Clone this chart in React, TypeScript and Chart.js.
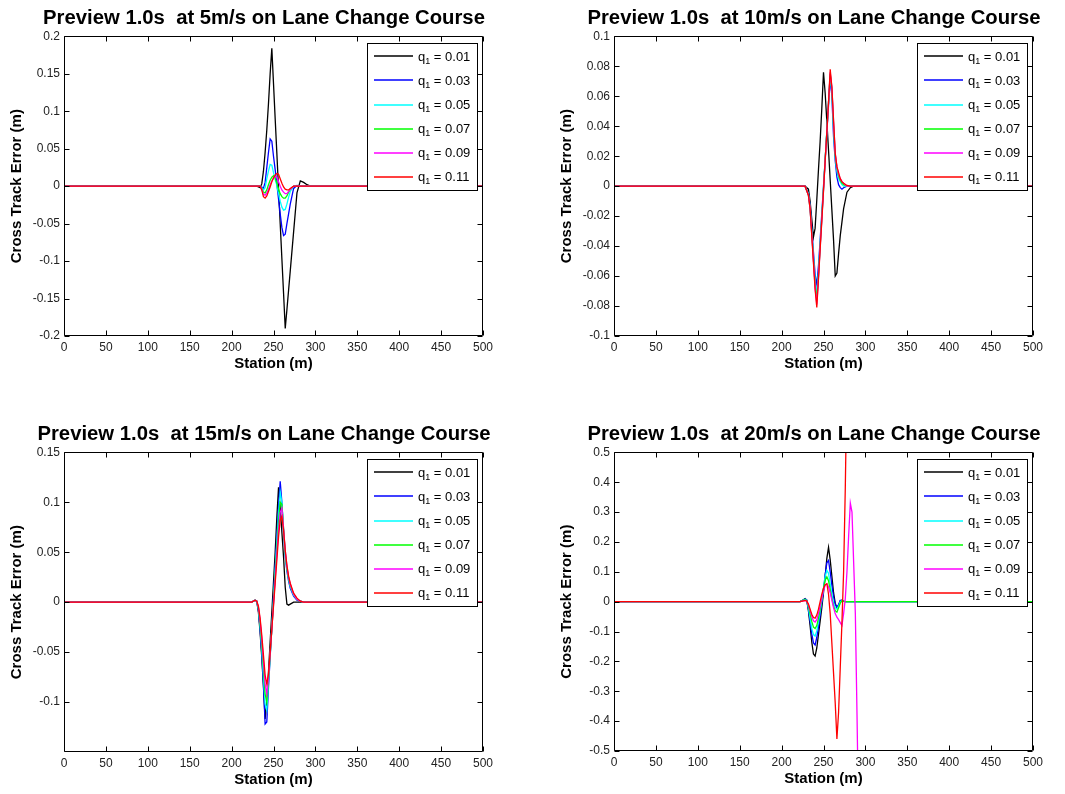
import React, { useEffect, useRef } from 'react';
import { Chart, registerables } from 'chart.js';

Chart.register(...registerables);

const FONT = "'Liberation Sans', Arial, Helvetica, sans-serif";

// ---------- shared labels / ticks ----------
const qValues = ['0.01', '0.03', '0.05', '0.07', '0.09', '0.11'];
const seriesColors = ['#000000', '#0000ff', '#00ffff', '#00ff00', '#ff00ff', '#ff0000'];
const stationTicks = [0, 50, 100, 150, 200, 250, 300, 350, 400, 450, 500];

const yTicks5 = [-0.2, -0.15, -0.1, -0.05, 0, 0.05, 0.1, 0.15, 0.2];
const yTicks10 = [-0.1, -0.08, -0.06, -0.04, -0.02, 0, 0.02, 0.04, 0.06, 0.08, 0.1];
const yTicks15 = [-0.1, -0.05, 0, 0.05, 0.1, 0.15];
const yTicks20 = [-0.5, -0.4, -0.3, -0.2, -0.1, 0, 0.1, 0.2, 0.3, 0.4, 0.5];

// ---------- 5 m/s ----------
const station5 = [0, 230, 234, 236, 238, 240, 242, 244, 246, 248, 250, 252, 254, 256, 258, 260, 262, 264, 266, 268, 270, 274, 278, 282, 286, 290, 294, 500];
const err5_q01 = [0, 0, -0.002, 0.003, 0.02, 0.045, 0.075, 0.11, 0.15, 0.184, 0.137, 0.09, 0.044, -0.003, -0.05, -0.097, -0.143, -0.19, -0.165, -0.139, -0.113, -0.061, -0.009, 0.007, 0.005, 0.002, 0, 0];
const err5_q03 = [0, 0, 0, -0.001, -0.003, 0.005, 0.025, 0.045, 0.063, 0.06, 0.04, 0.022, 0.003, -0.017, -0.037, -0.055, -0.066, -0.064, -0.05, -0.037, -0.024, -0.003, 0.001, 0, 0, 0, 0, 0];
const err5_q05 = [0, 0, 0, -0.002, -0.005, -0.002, 0.01, 0.02, 0.029, 0.028, 0.018, 0.009, 0.001, -0.01, -0.02, -0.028, -0.032, -0.031, -0.024, -0.015, -0.007, 0, 0, 0, 0, 0, 0, 0];
const err5_q07 = [0, 0, 0, -0.003, -0.008, -0.009, -0.005, 0.002, 0.008, 0.012, 0.014, 0.011, 0.004, -0.004, -0.01, -0.014, -0.016, -0.016, -0.013, -0.008, -0.004, 0, 0, 0, 0, 0, 0, 0];
const err5_q09 = [0, 0, 0, -0.004, -0.011, -0.012, -0.009, -0.004, 0.002, 0.007, 0.011, 0.013, 0.012, 0.006, 0, -0.005, -0.008, -0.01, -0.01, -0.007, -0.004, 0, 0, 0, 0, 0, 0, 0];
const err5_q11 = [0, 0, 0, -0.005, -0.014, -0.016, -0.013, -0.007, -0.001, 0.006, 0.011, 0.015, 0.017, 0.016, 0.01, 0.004, -0.001, -0.004, -0.005, -0.005, -0.003, 0, 0, 0, 0, 0, 0, 0];

// ---------- 10 m/s ----------
const station10 = [0, 228, 232, 234, 236, 238, 240, 242, 244, 246, 248, 250, 252, 254, 256, 258, 260, 262, 264, 266, 268, 270, 272, 274, 278, 282, 286, 500];
const err10_q01 = [0, 0, -0.002, -0.01, -0.022, -0.034, -0.028, -0.009, 0.011, 0.03, 0.052, 0.076, 0.062, 0.043, 0.024, 0.004, -0.016, -0.036, -0.06, -0.058, -0.045, -0.033, -0.024, -0.015, -0.004, -0.001, 0, 0];
const err10_q03 = [0, 0, -0.005, -0.013, -0.028, -0.044, -0.059, -0.066, -0.053, -0.036, -0.018, 0, 0.018, 0.036, 0.054, 0.072, 0.06, 0.033, 0.017, 0.006, 0.001, -0.001, -0.002, -0.001, 0, 0, 0, 0];
const err10_q05 = [0, 0, -0.005, -0.014, -0.03, -0.047, -0.063, -0.072, -0.058, -0.039, -0.02, -0.001, 0.018, 0.037, 0.056, 0.074, 0.063, 0.038, 0.019, 0.01, 0.005, 0.003, 0.001, 0, 0, 0, 0, 0];
const err10_q07 = [0, 0, -0.006, -0.015, -0.031, -0.049, -0.066, -0.076, -0.06, -0.04, -0.021, -0.002, 0.018, 0.037, 0.056, 0.075, 0.065, 0.041, 0.021, 0.012, 0.007, 0.004, 0.002, 0.001, 0, 0, 0, 0];
const err10_q09 = [0, 0, -0.006, -0.015, -0.032, -0.05, -0.068, -0.079, -0.061, -0.041, -0.022, -0.003, 0.017, 0.036, 0.056, 0.076, 0.066, 0.043, 0.022, 0.013, 0.008, 0.005, 0.003, 0.002, 0, 0, 0, 0];
const err10_q11 = [0, 0, -0.006, -0.015, -0.033, -0.051, -0.069, -0.081, -0.062, -0.042, -0.023, -0.003, 0.017, 0.036, 0.056, 0.078, 0.066, 0.044, 0.022, 0.013, 0.009, 0.005, 0.003, 0.002, 0.0005, 0, 0, 0];

// ---------- 15 m/s ----------
const station15 = [0, 224, 228, 230, 232, 234, 236, 238, 240, 242, 244, 246, 248, 250, 252, 254, 256, 258, 260, 262, 264, 266, 268, 270, 274, 278, 282, 286, 500];
const err15_q01 = [0, 0, 0.002, 0.001, -0.01, -0.03, -0.055, -0.085, -0.117, -0.1, -0.07, -0.04, -0.01, 0.02, 0.05, 0.085, 0.115, 0.095, 0.07, 0.045, 0.015, -0.002, -0.003, -0.002, 0, 0, 0, 0, 0];
const err15_q03 = [0, 0, 0.002, 0.001, -0.008, -0.027, -0.052, -0.082, -0.122, -0.12, -0.086, -0.055, -0.025, 0.006, 0.036, 0.066, 0.096, 0.121, 0.1, 0.07, 0.046, 0.031, 0.021, 0.014, 0.006, 0.002, 0.001, 0, 0];
const err15_q05 = [0, 0, 0.002, 0.001, -0.007, -0.024, -0.047, -0.074, -0.102, -0.108, -0.082, -0.054, -0.026, 0.003, 0.032, 0.06, 0.088, 0.11, 0.1, 0.072, 0.048, 0.033, 0.023, 0.016, 0.007, 0.003, 0.001, 0, 0];
const err15_q07 = [0, 0, 0.002, 0.001, -0.006, -0.021, -0.042, -0.066, -0.092, -0.1, -0.079, -0.053, -0.027, 0, 0.027, 0.053, 0.08, 0.1, 0.098, 0.074, 0.05, 0.034, 0.024, 0.017, 0.008, 0.003, 0.001, 0, 0];
const err15_q09 = [0, 0, 0.002, 0.001, -0.005, -0.018, -0.037, -0.059, -0.082, -0.092, -0.076, -0.052, -0.027, -0.002, 0.023, 0.048, 0.072, 0.09, 0.094, 0.074, 0.052, 0.036, 0.025, 0.018, 0.008, 0.003, 0.001, 0, 0];
const err15_q11 = [0, 0, 0.002, 0.001, -0.004, -0.016, -0.033, -0.053, -0.073, -0.082, -0.072, -0.05, -0.027, -0.004, 0.019, 0.042, 0.065, 0.082, 0.086, 0.072, 0.052, 0.037, 0.026, 0.019, 0.009, 0.004, 0.001, 0, 0];

// ---------- 20 m/s ----------
const station20 = [0, 222, 226, 228, 230, 232, 234, 236, 238, 240, 242, 244, 246, 248, 250, 252, 254, 256, 258, 260, 262, 264, 266, 268, 270, 272, 274, 276, 278, 280, 282, 284, 286, 288, 290, 292, 296, 500];
const err20_q01 = [0, 0, 0.006, 0.01, 0.005, -0.03, -0.08, -0.135, -0.175, -0.182, -0.155, -0.11, -0.065, -0.02, 0.03, 0.085, 0.145, 0.182, 0.14, 0.085, 0.03, -0.005, -0.02, -0.012, 0.003, 0.005, 0.002, 0, 0, 0, 0, 0, 0, 0, 0, 0, 0, 0];
const err20_q03 = [0, 0, 0.005, 0.009, 0.005, -0.025, -0.065, -0.108, -0.138, -0.145, -0.12, -0.085, -0.045, -0.005, 0.04, 0.09, 0.13, 0.138, 0.1, 0.055, 0.015, -0.01, -0.018, -0.01, 0.004, 0.004, 0.001, 0, 0, 0, 0, 0, 0, 0, 0, 0, 0, 0];
const err20_q05 = [0, 0, 0.005, 0.008, 0.004, -0.02, -0.055, -0.09, -0.11, -0.115, -0.098, -0.068, -0.032, 0.005, 0.045, 0.085, 0.105, 0.095, 0.06, 0.025, -0.005, -0.02, -0.025, -0.015, 0, 0.004, 0.001, 0, 0, 0, 0, 0, 0, 0, 0, 0, 0, 0];
const err20_q07 = [0, 0, 0.004, 0.006, 0.003, -0.015, -0.04, -0.066, -0.085, -0.09, -0.08, -0.055, -0.025, 0.01, 0.045, 0.072, 0.083, 0.07, 0.04, 0.01, -0.015, -0.03, -0.035, -0.02, -0.005, 0.003, 0.001, 0, 0, 0, 0, 0, 0, 0, 0, 0, 0, 0];
const err20_q09 = [0, 0, 0.003, 0.004, 0.002, -0.01, -0.03, -0.05, -0.064, -0.068, -0.06, -0.04, -0.015, 0.012, 0.038, 0.055, 0.06, 0.05, 0.03, 0.005, -0.02, -0.04, -0.052, -0.06, -0.07, -0.08, -0.04, 0.01, 0.1, 0.22, 0.33, 0.3, 0.13, -0.04, -0.38, -0.75, null, null];
const err20_q11 = [0, 0, 0.003, 0.004, 0.002, -0.008, -0.025, -0.042, -0.053, -0.055, -0.045, -0.025, 0, 0.025, 0.045, 0.057, 0.06, 0.025, -0.04, -0.14, -0.24, -0.34, -0.46, -0.37, -0.22, -0.07, 0.1, 0.38, 0.75, null, null, null, null, null, null, null, null, null];

type PanelDef = {
  title: string;
  stations: number[];
  series: (number | null)[][];
  yMin: number;
  yMax: number;
  yTicks: number[];
  plotLeft: number;
  plotRight: number;
  plotTop: number;
  plotBottom: number;
  titleCenter: number;
};

const panels: PanelDef[] = [
  {
    title: 'Preview 1.0s  at 5m/s on Lane Change Course',
    stations: station5,
    series: [err5_q01, err5_q03, err5_q05, err5_q07, err5_q09, err5_q11],
    yMin: -0.2, yMax: 0.2, yTicks: yTicks5,
    plotLeft: 64, plotRight: 483, plotTop: 36, plotBottom: 336, titleCenter: 263.8,
  },
  {
    title: 'Preview 1.0s  at 10m/s on Lane Change Course',
    stations: station10,
    series: [err10_q01, err10_q03, err10_q05, err10_q07, err10_q09, err10_q11],
    yMin: -0.1, yMax: 0.1, yTicks: yTicks10,
    plotLeft: 614, plotRight: 1033, plotTop: 36, plotBottom: 336, titleCenter: 814,
  },
  {
    title: 'Preview 1.0s  at 15m/s on Lane Change Course',
    stations: station15,
    series: [err15_q01, err15_q03, err15_q05, err15_q07, err15_q09, err15_q11],
    yMin: -0.15, yMax: 0.15, yTicks: yTicks15,
    plotLeft: 64, plotRight: 483, plotTop: 452, plotBottom: 752, titleCenter: 264,
  },
  {
    title: 'Preview 1.0s  at 20m/s on Lane Change Course',
    stations: station20,
    series: [err20_q01, err20_q03, err20_q05, err20_q07, err20_q09, err20_q11],
    yMin: -0.5, yMax: 0.5, yTicks: yTicks20,
    plotLeft: 614, plotRight: 1033, plotTop: 452, plotBottom: 751, titleCenter: 814,
  },
];

function framePlugin(p: PanelDef) {
  return {
    id: 'matlabFrame',
    afterDatasetsDraw(chart: any) {
      const { ctx, chartArea: a, scales } = chart;
      ctx.save();
      const L = Math.round(a.left) + 0.5;
      const R = Math.round(a.right) - 0.5;
      const T = Math.round(a.top) + 0.5;
      const B = Math.round(a.bottom) - 0.5;
      ctx.strokeStyle = '#000';
      ctx.lineWidth = 1;
      ctx.beginPath();
      ctx.rect(L, T, R - L, B - T);
      const tl = 5;
      stationTicks.forEach((v) => {
        const x = Math.round(scales.x.getPixelForValue(v)) + 0.5;
        ctx.moveTo(x, B);
        ctx.lineTo(x, B - tl);
        ctx.moveTo(x, T);
        ctx.lineTo(x, T + tl);
      });
      p.yTicks.forEach((v) => {
        const y = Math.round(scales.y.getPixelForValue(v)) + 0.5;
        ctx.moveTo(L, y);
        ctx.lineTo(L + tl, y);
        ctx.moveTo(R, y);
        ctx.lineTo(R - tl, y);
      });
      ctx.stroke();

      // legend box (MATLAB style, inside the axes, north-east)
      const lw = 110;
      const lh = 147;
      const lx = Math.round(a.right) - 116;
      const ly = Math.round(a.top) + 7;
      ctx.fillStyle = '#ffffff';
      ctx.fillRect(lx, ly, lw, lh);
      ctx.strokeStyle = '#000';
      ctx.lineWidth = 1;
      ctx.strokeRect(lx + 0.5, ly + 0.5, lw, lh);
      qValues.forEach((q, i) => {
        const cy = ly + 13.3 + i * 24.1;
        const yy = Math.round(cy);
        ctx.strokeStyle = seriesColors[i];
        ctx.lineWidth = 1.6;
        ctx.beginPath();
        ctx.moveTo(lx + 7, yy);
        ctx.lineTo(lx + 46, yy);
        ctx.stroke();
        ctx.fillStyle = '#000';
        ctx.textBaseline = 'alphabetic';
        ctx.textAlign = 'left';
        const base = cy + 4.5;
        let tx = lx + 51;
        ctx.font = `13px ${FONT}`;
        ctx.fillText('q', tx, base);
        tx += ctx.measureText('q').width;
        ctx.font = `9px ${FONT}`;
        ctx.fillText('1', tx, base + 3);
        tx += ctx.measureText('1').width;
        ctx.font = `13px ${FONT}`;
        ctx.fillText(` = ${q}`, tx, base);
      });
      ctx.restore();
    },
  };
}

function Panel({ p }: { p: PanelDef }) {
  const ref = useRef<HTMLCanvasElement>(null);
  const yAxisW = 64;
  const titleH = 36;
  const xAxisH = 44;
  const canvasLeft = p.plotLeft - yAxisW;
  const canvasTop = p.plotTop - titleH;
  const width = Math.round(2 * (p.titleCenter - canvasLeft));
  const height = p.plotBottom - p.plotTop + titleH + xAxisH;
  const rightW = canvasLeft + width - p.plotRight;

  useEffect(() => {
    if (!ref.current) return;
    const chart = new Chart(ref.current, {
      type: 'line',
      data: {
        datasets: p.series.map((vals, i) => ({
          label: `q\u2081 = ${qValues[i]}`,
          data: p.stations.map((s, j) => ({ x: s, y: vals[j] })),
          borderColor: seriesColors[i],
          backgroundColor: seriesColors[i],
          borderWidth: 1.3,
          pointRadius: 0,
          tension: 0,
          fill: false,
          spanGaps: false,
          order: 6 - i,
          yAxisID: 'y',
        })),
      },
      options: {
        responsive: false,
        animation: false,
        devicePixelRatio: 1,
        events: [],
        layout: { padding: 0 },
        plugins: {
          legend: { display: false },
          tooltip: { enabled: false },
          title: {
            display: true,
            text: p.title,
            color: '#000',
            font: { family: FONT, size: 20.3, weight: 'bold' },
            padding: { top: 6, bottom: 6 },
          },
        },
        scales: {
          x: {
            type: 'linear',
            position: 'bottom',
            min: 0,
            max: 500,
            grid: { display: false, drawTicks: false },
            border: { display: false },
            ticks: {
              color: '#222',
              font: { family: FONT, size: 12 },
              padding: 4,
              autoSkip: false,
              maxRotation: 0,
              callback: (v: any) => String(v),
            },
            afterBuildTicks: (s: any) => {
              s.ticks = stationTicks.map((v) => ({ value: v }));
            },
            afterFit: (s: any) => {
              s.height = xAxisH;
            },
            title: {
              display: true,
              text: 'Station (m)',
              color: '#000',
              font: { family: FONT, size: 15, weight: 'bold' },
              padding: { top: 0, bottom: 7 },
            },
          },
          y: {
            type: 'linear',
            position: 'left',
            min: p.yMin,
            max: p.yMax,
            grid: { display: false, drawTicks: false },
            border: { display: false },
            ticks: {
              color: '#222',
              font: { family: FONT, size: 12 },
              padding: 4,
              autoSkip: false,
              callback: (v: any) => String(v),
            },
            afterBuildTicks: (s: any) => {
              s.ticks = p.yTicks.map((v) => ({ value: v }));
            },
            afterFit: (s: any) => {
              s.width = yAxisW;
            },
            title: {
              display: true,
              text: 'Cross Track Error (m)',
              color: '#000',
              font: { family: FONT, size: 15, weight: 'bold' },
              padding: { top: 8, bottom: 0 },
            },
          },
          yR: {
            type: 'linear',
            position: 'right',
            display: true,
            grid: { display: false, drawTicks: false },
            border: { display: false },
            ticks: { display: false },
            afterFit: (s: any) => {
              s.width = rightW;
            },
          },
        },
      } as any,
      plugins: [framePlugin(p)],
    });
    return () => chart.destroy();
  }, []);

  return (
    <canvas
      ref={ref}
      width={width}
      height={height}
      style={{ position: 'absolute', left: canvasLeft, top: canvasTop, width, height }}
    />
  );
}

export default function App() {
  return (
    <div
      style={{
        position: 'absolute',
        left: 0,
        top: 0,
        width: 1065,
        height: 794,
        overflow: 'hidden',
        background: '#ffffff',
      }}
    >
      {panels.map((p, i) => (
        <Panel key={i} p={p} />
      ))}
    </div>
  );
}
